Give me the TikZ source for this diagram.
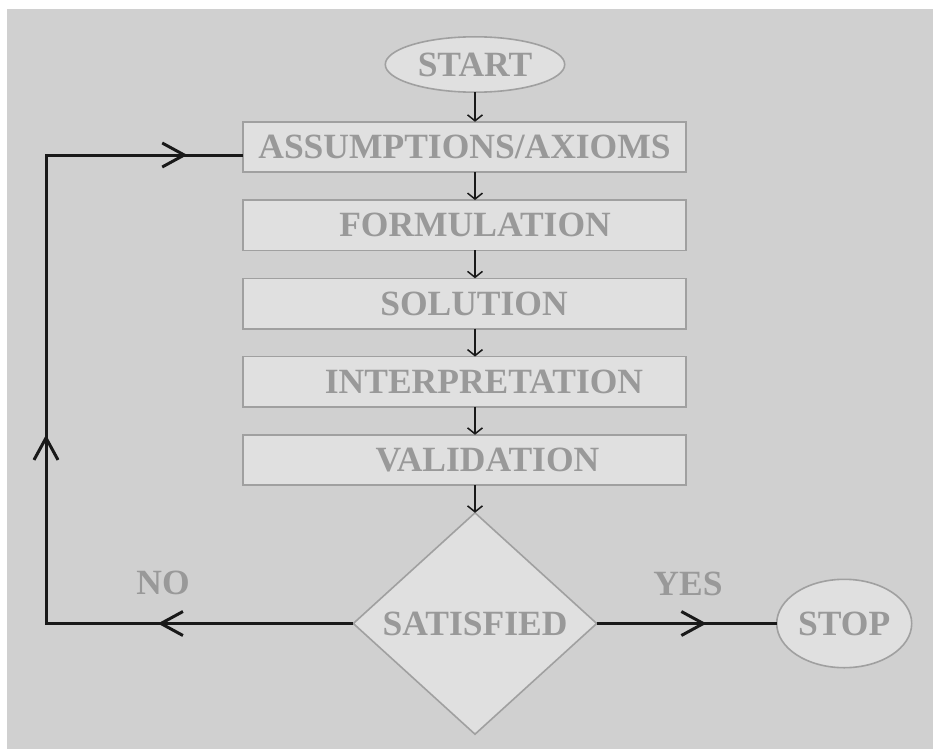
\documentclass[tikz,border=0pt]{standalone}
\usepackage{fontspec}
\setmainfont{Liberation Serif}
\usepackage{xcolor}
\usetikzlibrary{arrows.meta,positioning,shapes.geometric,decorations.markings}
\definecolor{pagegray}{RGB}{208,208,208}
\definecolor{boxfill}{RGB}{224,224,224}
\definecolor{boxedge}{RGB}{160,160,160}
\definecolor{lbltext}{RGB}{153,153,153}
\colorlet{lineblack}{black!90}
\tikzset{
    stagebox/.style={
        rectangle, draw=boxedge, line width=1.6pt,
        fill=boxfill, align=center, text=lbltext,
        inner sep=0pt, outer sep=0pt, minimum height=50.4pt, minimum width=443.4pt,
        font=\fontsize{35.5}{40}\selectfont\bfseries
    },
    textshift/.style={execute at begin node={\hspace*{#1}}},
    termbox/.style={
        ellipse, draw=boxedge, line width=1.6pt,
        fill=boxfill, text=lbltext, inner sep=0pt, outer sep=0pt,
        font=\fontsize{35.5}{40}\selectfont\bfseries
    },
    decisionbox/.style={
        diamond, draw=boxedge, line width=1.6pt,
        fill=boxfill, text=lbltext, inner sep=0pt, outer sep=0pt,
        minimum width=243.4pt, minimum height=221.4pt,
        font=\fontsize{35.5}{40}\selectfont\bfseries
    },
    flow/.style={-{Straight Barb[length=6pt, width=15pt]}, line width=1.5pt, draw=lineblack},
    loopline/.style={line width=3pt, draw=lineblack, line join=miter},
    midarrow/.style={postaction={decorate}, decoration={markings,
        mark=at position #1 with {\arrow{Straight Barb[length=22pt, width=24pt]}}}},
    branchlbl/.style={text=lbltext, font=\fontsize{35.5}{40}\selectfont\bfseries}
}

\begin{document}
\begin{tikzpicture}[x=1pt, y=-1pt, node distance=27.85pt]
        \useasboundingbox (0,0) rectangle (933,749);
        \fill[pagegray] (7,9) rectangle (933,749);
        % main column
        \node[termbox, minimum width=179.4pt, minimum height=55.4pt] (start) at (475,64.5) {START};
        \node[stagebox, below=29.6pt of start, xshift=-10.5pt] (s1) {ASSUMPTIONS/AXIOMS};
        \node[stagebox, textshift=21pt, below=of s1] (s2) {FORMULATION};
        \node[stagebox, textshift=19pt, below=of s2] (s3) {SOLUTION};
        \node[stagebox, textshift=39pt, below=of s3] (s4) {INTERPRETATION};
        \node[stagebox, textshift=46pt, below=of s4] (s5) {VALIDATION};
        \node[decisionbox, below=27.6pt of s5, xshift=10.5pt] (sat) {SATISFIED};
        \node[termbox, minimum width=135pt, minimum height=88.4pt, right=180pt of sat] (stop) {STOP};
        \node[branchlbl] (nolbl) at (163,583) {NO};
        \node[branchlbl] (yeslbl) at (688,584) {YES};
        \draw[flow] (start.south) -- (start.south |- s1.north);
        \foreach \u/\v in {s1/s2, s2/s3, s3/s4, s4/s5}
            \draw[flow] (\u.south -| start.south) -- (\v.north -| start.south);
        \draw[flow] (s5.south -| sat.north) -- (sat.north);
        % feedback loop
        \coordinate (lowcorner) at (46,0 |- sat.west);
        \coordinate (highcorner) at (46,155);
        \draw[loopline, postaction={decorate}, decoration={markings,
            mark=at position 0.201 with {\arrow{Straight Barb[length=22pt, width=24pt]}},
            mark=at position 0.510 with {\arrow{Straight Barb[length=22pt, width=24pt]}},
            mark=at position 0.943 with {\arrow{Straight Barb[length=22pt, width=24pt]}}}]
            (sat.west) -- (lowcorner) -- (highcorner) -- (highcorner -| s1.west);
        \draw[loopline, midarrow=0.61] (sat.east) -- (stop.west);
    \end{tikzpicture}
\end{document}
